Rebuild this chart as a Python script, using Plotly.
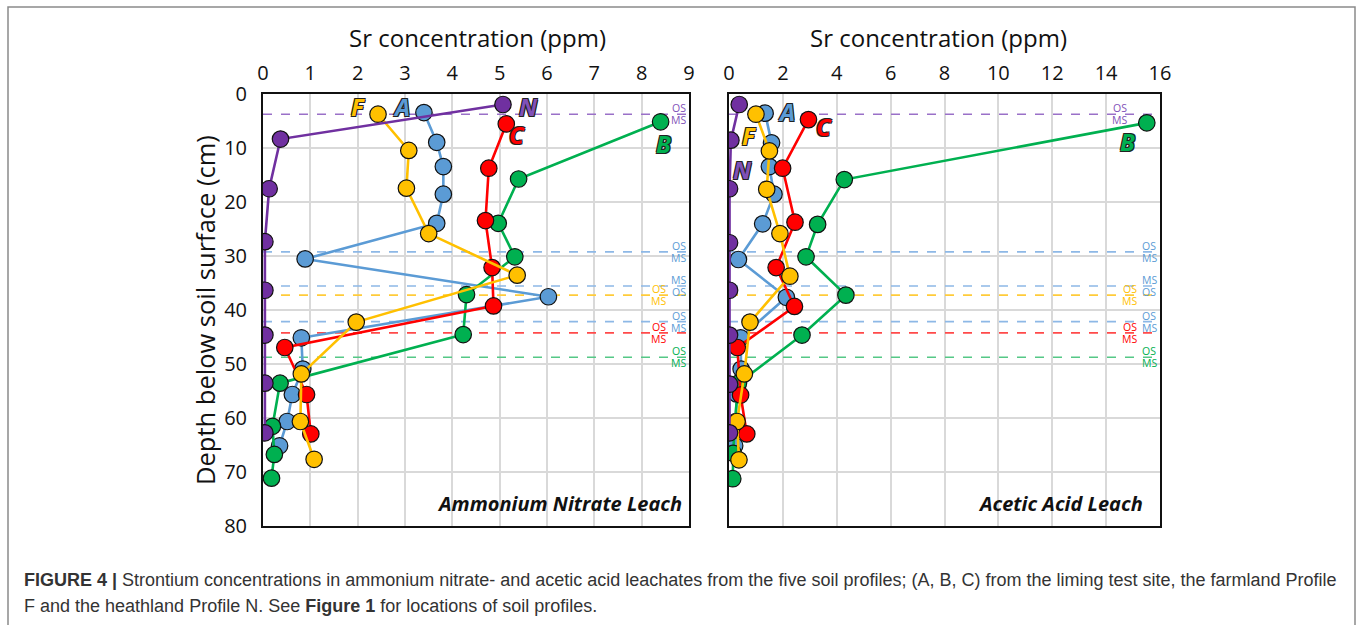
import plotly.graph_objects as go

# ---------------- data ----------------
# Ammonium nitrate leach (left panel): depth (cm) and Sr (ppm)
A_nh_depth = [3.5, 9.0, 13.5, 18.6, 24.0, 30.6, 37.6, 45.2, 51.0, 55.7, 60.7, 65.2]
A_nh_sr = [3.40, 3.67, 3.81, 3.81, 3.67, 0.89, 6.03, 0.81, 0.84, 0.62, 0.51, 0.35]
B_nh_depth = [5.2, 15.8, 24.0, 30.2, 37.2, 44.6, 53.6, 61.6, 66.8, 71.2]
B_nh_sr = [8.40, 5.40, 4.97, 5.32, 4.30, 4.23, 0.36, 0.20, 0.24, 0.18]
C_nh_depth = [5.6, 13.8, 23.5, 32.2, 39.3, 47.0, 55.7, 63.0]
C_nh_sr = [5.14, 4.77, 4.70, 4.84, 4.87, 0.46, 0.92, 1.01]
F_nh_depth = [3.8, 10.5, 17.5, 25.9, 33.6, 42.3, 51.9, 60.7, 67.7]
F_nh_sr = [2.43, 3.08, 3.03, 3.50, 5.37, 1.97, 0.81, 0.79, 1.08]
N_nh_depth = [2.0, 8.4, 17.6, 27.4, 36.4, 44.7, 53.6, 62.8]
N_nh_sr = [5.07, 0.37, 0.13, 0.04, 0.04, 0.04, 0.04, 0.04]

# Acetic acid leach (right panel)
A_ac_depth = [3.6, 9.1, 13.5, 18.6, 24.1, 30.7, 37.7, 45.2, 51.0, 55.6, 60.7, 65.2]
A_ac_sr = [1.34, 1.58, 1.50, 1.67, 1.25, 0.35, 2.13, 0.43, 0.45, 0.28, 0.26, 0.21]
B_ac_depth = [5.4, 15.9, 24.2, 30.2, 37.3, 44.7, 53.6, 61.6, 66.6, 71.3]
B_ac_sr = [15.51, 4.28, 3.29, 2.86, 4.34, 2.71, 0.35, 0.20, 0.16, 0.14]
C_ac_depth = [4.8, 13.8, 23.8, 32.2, 39.4, 47.0, 55.8, 63.0]
C_ac_sr = [2.95, 1.99, 2.45, 1.75, 2.43, 0.31, 0.43, 0.66]
F_ac_depth = [3.8, 10.6, 17.7, 25.9, 33.8, 42.3, 51.9, 60.7, 67.8]
F_ac_sr = [1.00, 1.50, 1.40, 1.89, 2.26, 0.78, 0.57, 0.30, 0.37]
N_ac_depth = [2.0, 8.6, 17.6, 27.6, 36.4, 44.7, 53.8, 62.8]
N_ac_sr = [0.38, 0.07, 0.02, 0.02, 0.02, 0.02, 0.02, 0.02]

profiles = ["A", "B", "C", "F", "N"]

# Organic soil / mineral soil boundaries: profile, depth, label above, label below
boundary_profile = ["N", "A", "A", "F", "A", "C", "B"]
boundary_depth = [3.8, 29.3, 35.6, 37.3, 42.2, 44.3, 48.8]
boundary_upper = ["OS", "OS", "MS", "OS", "OS", "OS", "OS"]
boundary_lower = ["MS", "MS", "OS", "MS", "MS", "MS", "MS"]

# Profile letter label positions (x in ppm, y in cm) per panel
label_nh = {"F": (2.0, 2.4), "A": (2.92, 2.4), "N": (5.6, 2.3), "C": (5.37, 7.5), "B": (8.46, 9.2)}
label_ac = {"A": (2.12, 3.3), "C": (3.53, 6.1), "F": (0.76, 7.7), "N": (0.5, 14.1), "B": (14.8, 8.8)}

x_title = "Sr concentration (ppm)"
y_title = "Depth below soil surface (cm)"
panel_titles = ["Ammonium Nitrate Leach", "Acetic Acid Leach"]
caption1 = ("<b>FIGURE 4 |</b> Strontium concentrations in ammonium nitrate- and acetic acid leachates "
            "from the five soil profiles; (A, B, C) from the liming test site, the farmland Profile")
caption2 = "F and the heathland Profile N. See <b>Figure 1</b> for locations of soil profiles."

# ---------------- style ----------------
W, H = 1357, 625
colors = {"A": "#5B9BD5", "B": "#00B050", "C": "#FF0000", "F": "#FFC000", "N": "#7030A0"}
dash_colors = {"A": "#8DB8E6", "B": "#55C886", "C": "#FF4A4A", "F": "#FFCB3A", "N": "#9A70C8"}
label_colors = {"A": "#5B9BD5", "B": "#00B050", "C": "#FF0000", "F": "#FFC000", "N": "#8050B8"}
FONT = "Open Sans"

nh = {"A": (A_nh_sr, A_nh_depth), "B": (B_nh_sr, B_nh_depth), "C": (C_nh_sr, C_nh_depth),
      "F": (F_nh_sr, F_nh_depth), "N": (N_nh_sr, N_nh_depth)}
ac = {"A": (A_ac_sr, A_ac_depth), "B": (B_ac_sr, B_ac_depth), "C": (C_ac_sr, C_ac_depth),
      "F": (F_ac_sr, F_ac_depth), "N": (N_ac_sr, N_ac_depth)}

panels = [
    dict(data=nh, labels=label_nh, xmax=9, dtick=1, xa="x", ya="y", lab_r=8.78, lab_l=8.36),
    dict(data=ac, labels=label_ac, xmax=16, dtick=2, xa="x2", ya="y2", lab_r=15.6, lab_l=14.88),
]

fig = go.Figure()
annotations = []

for p in panels:
    # dashed OS/MS boundary lines
    for prof, d, up, lo in zip(boundary_profile, boundary_depth, boundary_upper, boundary_lower):
        fig.add_trace(go.Scatter(x=[0, p["xmax"]], y=[d, d], mode="lines", xaxis=p["xa"], yaxis=p["ya"],
                                 line=dict(color=dash_colors[prof], width=1.6, dash="dash"),
                                 hoverinfo="skip", showlegend=False))
        lx = p["lab_l"] if prof in ("F", "C") else p["lab_r"]
        if prof == "N":
            lx = p["lab_r"] if p["xa"] == "x" else 14.5
        for txt, yy in ((up, d - 1.1), (lo, d + 1.1)):
            annotations.append(dict(x=lx, y=yy, xref=p["xa"], yref=p["ya"], text=txt, showarrow=False,
                                    font=dict(family=FONT, size=10.5, color=label_colors[prof]),
                                    xanchor="center", yanchor="middle"))
    # profile series
    for prof in profiles:
        xs, ys = p["data"][prof]
        fig.add_trace(go.Scatter(x=xs, y=ys, mode="lines+markers", xaxis=p["xa"], yaxis=p["ya"],
                                 line=dict(color=colors[prof], width=2.6),
                                 marker=dict(size=16.5, color=colors[prof], line=dict(color="#111", width=1.2)),
                                 name=prof, showlegend=False))
    for prof, (lx, ly) in p["labels"].items():
        annotations.append(dict(x=lx, y=ly, xref=p["xa"], yref=p["ya"], text="<b><i>" + prof + "</i></b>",
                                showarrow=False, xanchor="center", yanchor="middle",
                                font=dict(family=FONT, size=24, color=label_colors[prof],
                                          shadow="-1px -1px 0 #222, 1px -1px 0 #222, -1px 1px 0 #222, 1px 1px 0 #222")))

# geometry (pixels -> paper)
def px(x):
    return x / W

def py(y):
    return 1 - y / H

y_dom = [py(525.7), py(93.7)]
axis_common = dict(showgrid=True, gridcolor="#d9d9d9", gridwidth=1.5, showline=True, linecolor="#111",
                   linewidth=2, mirror=True, zeroline=False, ticks="", automargin=False,
                   tickfont=dict(family=FONT, size=20, color="#111"))

fig.update_layout(
    width=W, height=H, margin=dict(l=0, r=0, t=0, b=0, autoexpand=False),
    paper_bgcolor="white", plot_bgcolor="white", showlegend=False,
    xaxis=dict(domain=[px(263), px(689)], range=[0, 9], dtick=1, side="top", anchor="y",
               ticklabelstandoff=4, **axis_common),
    yaxis=dict(domain=y_dom, range=[80, 0], dtick=10, anchor="x", ticklabelstandoff=10, **axis_common),
    xaxis2=dict(domain=[px(729), px(1160)], range=[0, 16], dtick=2, side="top", anchor="y2",
                ticklabelstandoff=4, **axis_common),
    yaxis2=dict(domain=y_dom, range=[80, 0], dtick=10, anchor="x2", showticklabels=False, **axis_common),
)

annotations += [
    dict(x=px(477), y=py(38), xref="paper", yref="paper", text=x_title, showarrow=False,
         font=dict(family=FONT, size=24, color="#111"), xanchor="center", yanchor="middle"),
    dict(x=px(938), y=py(38), xref="paper", yref="paper", text=x_title, showarrow=False,
         font=dict(family=FONT, size=24, color="#111"), xanchor="center", yanchor="middle"),
    dict(x=px(205), y=py(310), xref="paper", yref="paper", text=y_title, showarrow=False, textangle=-90,
         font=dict(family=FONT, size=25.5, color="#111"), xanchor="center", yanchor="middle"),
    dict(x=px(684), y=py(503), xref="paper", yref="paper", text="<b><i>" + panel_titles[0] + "</i></b>",
         showarrow=False, font=dict(family=FONT, size=20, color="#111"), xanchor="right", yanchor="middle"),
    dict(x=px(1145), y=py(503), xref="paper", yref="paper", text="<b><i>" + panel_titles[1] + "</i></b>",
         showarrow=False, font=dict(family=FONT, size=20, color="#111"), xanchor="right", yanchor="middle"),
    dict(x=px(22), y=py(580), xref="paper", yref="paper", text=caption1, showarrow=False,
         font=dict(family="Liberation Sans", size=18, color="#333"), xanchor="left", yanchor="middle"),
    dict(x=px(22), y=py(606), xref="paper", yref="paper", text=caption2, showarrow=False,
         font=dict(family="Liberation Sans", size=18, color="#333"), xanchor="left", yanchor="middle"),
]
fig.update_layout(annotations=annotations)

fig.add_shape(type="rect", xref="paper", yref="paper", x0=px(8), x1=px(1355), y0=py(640), y1=py(7),
              line=dict(color="#8a8a8a", width=1.5), fillcolor="rgba(0,0,0,0)", layer="below")

fig.write_html("out.html", config={"displayModeBar": False},
               post_script="document.body.style.margin='0';document.body.style.overflow='hidden';")
